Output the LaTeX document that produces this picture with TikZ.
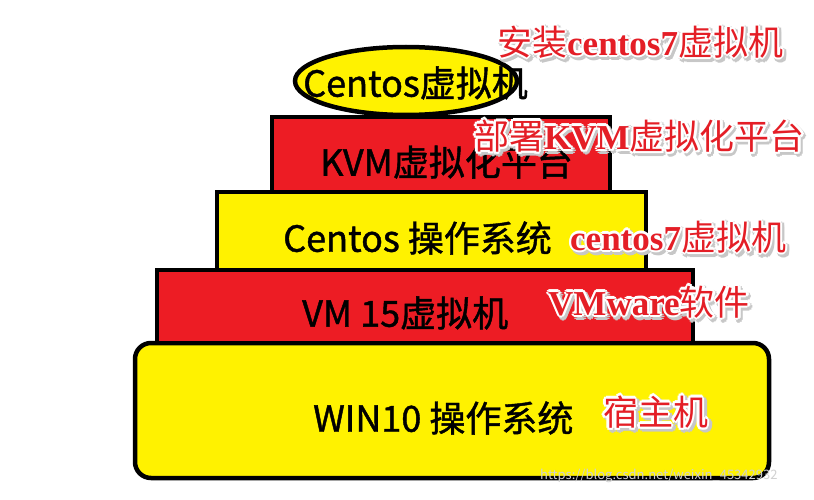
\documentclass[tikz,border=0pt]{standalone}
\usepackage{fontspec}
\setmainfont{Noto Sans CJK SC}
\newfontfamily\cjkfont{Noto Sans CJK SC}
\newfontfamily\cjkbold{Noto Sans CJK SC}[FakeBold=1.2]
\newfontfamily\latser{Liberation Serif}
\usetikzlibrary{calc,shapes.geometric}
\definecolor{boxred}{HTML}{ED1C24}
\definecolor{boxyellow}{HTML}{FFF200}
\definecolor{tagred}{HTML}{E41E26}
\newcommand\ls[1]{{\latser\bfseries #1}}
\newcommand\redtag[4]{% name, x, y, text
  \foreach \a in {0,45,...,315}{
    \node[tagtext, text=black!22] (#1-s\a) at ($(#2,#3)+(\a:2.6)+(2.2,2.2)$) {#4};
  }
  \foreach \a in {0,45,...,315}{
    \node[tagtext, text=white] (#1-h\a) at ($(#2,#3)+(\a:2.4)$) {#4};
  }
  \node[tagtext, text=tagred] (#1) at (#2,#3) {#4};
}
\begin{document}
\begin{tikzpicture}[x=1pt,y=-1pt,
  layer/.style={draw=black, line width=4.5pt},
  blacktext/.style={anchor=west, inner sep=0pt, text=black,
    font=\cjkbold\fontsize{36}{36}\selectfont},
  tagtext/.style={anchor=west, inner sep=0pt,
    font=\cjkfont\fontsize{35}{35}\selectfont},
]
\useasboundingbox (0,0) rectangle (814,500);
\fill[white] (0,0) rectangle (814,500);

% layers (bottom first so upper borders sit on top)
\draw[layer, fill=boxyellow, rounded corners=16pt] (135,343) rectangle (769,478);
\draw[layer, fill=boxred] (157,270) rectangle (693,343);
\draw[layer, fill=boxyellow] (217,192) rectangle (646,270);
\draw[layer, fill=boxred] (272,117) rectangle (610,192);
\node[ellipse, draw=black, line width=4.5pt, fill=boxyellow,
      minimum width=222pt, minimum height=68pt, inner sep=0pt] (vmell) at (406,81) {};

% black labels
\node[blacktext] (tvm)  at (303,83)  {Centos虚拟机};
\node[blacktext] (tkvm) at (320,162) {KVM虚拟化平台};
\node[blacktext] (tos)  at (283,238) {Centos 操作系统};
\node[blacktext] (tvmw) at (302,313) {VM 15虚拟机};
\node[blacktext] (twin) at (313,418) {WIN10 操作系统};

% red annotations
\redtag{r1}{497}{42}{安装\ls{centos7}虚拟机}
\redtag{r2}{474}{136}{部署\ls{KVM}虚拟化平台}
\redtag{r3}{570}{237}{\ls{centos7}虚拟机}
\redtag{r4}{548}{302}{\ls{VMware}软件}
\redtag{r5}{603}{412}{宿主机}

% watermark
\node[anchor=west, inner sep=0pt, text=black!18,
      font=\fontsize{13}{13}\selectfont] (wm) at (540,476) {https://blog.csdn.net/weixin\_45342932};
\end{tikzpicture}
\end{document}
